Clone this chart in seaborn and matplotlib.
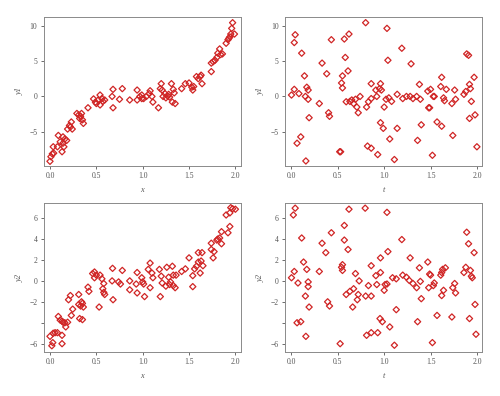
import matplotlib
matplotlib.use("Agg")
import matplotlib.pyplot as plt
import pandas as pd
import seaborn as sns

# panel 1: x vs y1
x_a = [0.00, 0.01, 0.025, 0.035, 0.04, 0.09, 0.08, 0.11, 0.13, 0.14, 0.14, 0.15, 0.16, 0.18,
       0.19, 0.21, 0.23, 0.24, 0.22, 0.29, 0.31, 0.32, 0.34, 0.35, 0.36, 0.33, 0.41, 0.47,
       0.49, 0.50, 0.52, 0.54, 0.54, 0.56, 0.57, 0.59, 0.68, 0.67, 0.68, 0.75, 0.78, 0.86,
       0.94, 0.94, 0.97, 0.99, 0.99, 1.01, 1.04, 1.07, 1.08, 1.10, 1.11, 1.17, 1.19, 1.20,
       1.21, 1.22, 1.24, 1.25, 1.27, 1.28, 1.29, 1.31, 1.32, 1.33, 1.34, 1.35, 1.42, 1.46,
       1.50, 1.53, 1.54, 1.55, 1.58, 1.60, 1.62, 1.63, 1.64, 1.74, 1.74, 1.76, 1.78, 1.80,
       1.81, 1.83, 1.84, 1.86, 1.90, 1.92, 1.94, 1.95, 1.96, 1.97, 1.99, 1.93]
y1_a = [-9.15, -8.5, -8.1, -7.1, -8.0, -5.5, -7.1, -6.4, -7.8, -6.6, -5.7, -7.1, -6.0, -6.2,
        -4.6, -4.1, -3.6, -4.6, -4.3, -2.4, -2.6, -3.1, -2.4, -3.3, -3.8, -2.8, -1.6, -0.35,
        -0.8, -1.0, -0.5, 0.2, -1.2, -0.3, -0.7, -0.5, 1.0, 0.0, -1.6, -0.4, 1.1, -0.5,
        0.9, -0.5, 0.0, 0.2, -0.3, -0.3, 0.0, 0.4, 0.8, 0.0, -0.8, -1.6, 1.1, 1.8,
        0.9, 0.0, 0.4, -0.2, 0.05, 0.3, -0.1, 1.8, -0.8, 1.0, 0.5, -1.0, 1.1, 1.8,
        1.9, 1.3, 0.9, 1.4, 2.8, 2.5, 2.8, 3.0, 1.8, 3.5, 4.7, 4.9, 5.1, 5.5,
        6.1, 6.7, 5.9, 6.0, 7.5, 8.0, 8.4, 8.8, 9.6, 10.4, 8.8, 8.2]

# panel 2: t vs y1
t_b = [0.00, 0.03, 0.03, 0.04, 0.06, 0.08, 0.10, 0.11, 0.14, 0.15, 0.155, 0.165, 0.18, 0.18,
       0.19, 0.30, 0.33, 0.38, 0.40, 0.41, 0.43, 0.52, 0.53, 0.54, 0.55, 0.55, 0.57, 0.58,
       0.59, 0.61, 0.62, 0.63, 0.65, 0.67, 0.69, 0.705, 0.72, 0.74, 0.80, 0.81, 0.82, 0.83,
       0.86, 0.86, 0.86, 0.91, 0.92, 0.93, 0.95, 0.96, 0.96, 0.97, 0.99, 1.00, 1.02, 1.03,
       1.04, 1.05, 1.06, 1.08, 1.11, 1.14, 1.14, 1.19, 1.20, 1.24, 1.28, 1.29, 1.31, 1.35,
       1.36, 1.38, 1.39, 1.40, 1.47, 1.48, 1.49, 1.50, 1.52, 1.53, 1.54, 1.57, 1.61, 1.62,
       1.62, 1.64, 1.65, 1.67, 1.73, 1.74, 1.76, 1.77, 1.86, 1.88, 1.89, 1.91, 1.92, 1.92,
       1.93, 1.94, 1.97, 1.98, 2.00]
y1_b = [0.2, 1.0, 7.6, 8.7, -6.6, 0.4, -5.7, 6.1, 2.9, 0.0, -9.1, 1.3, -0.4, 0.9,
        -3.0, -1.0, 4.7, 3.2, -2.3, -2.8, 8.0, -7.8, -7.8, 1.9, 2.9, 1.2, 8.1, 5.5,
        -0.75, 3.6, 8.8, -0.7, -0.5, -1.0, -0.4, -1.5, -2.3, 0.0, 10.4, -1.5, -7.0, -0.75,
        1.8, -0.3, -7.3, 0.9, 0.0, -8.2, 1.1, 1.8, -3.7, 0.9, -4.5, -1.5, -0.4, 9.6,
        5.1, -0.2, -6.0, -0.7, -8.9, 0.3, -4.5, 6.8, -0.3, 0.0, 0.0, 4.6, -0.3, 0.0,
        -6.2, 1.7, -0.4, -4.0, 0.75, -1.6, -1.6, 1.0, -8.3, 0.0, 0.0, -3.6, 1.4, 2.7,
        -4.2, -0.2, -0.6, 1.0, -1.0, -5.5, 0.9, -0.4, 0.3, 0.7, 6.0, 5.8, -3.1, 1.7,
        1.1, -0.7, 2.7, -2.6, -7.1]

# panel 3: x vs y2
x_c = [0.00, 0.02, 0.03, 0.035, 0.055, 0.08, 0.09, 0.11, 0.13, 0.13, 0.13, 0.14, 0.16, 0.17,
       0.19, 0.20, 0.22, 0.23, 0.245, 0.31, 0.31, 0.32, 0.33, 0.34, 0.35, 0.35, 0.36, 0.41,
       0.42, 0.46, 0.48, 0.48, 0.50, 0.53, 0.54, 0.56, 0.57, 0.58, 0.58, 0.59, 0.675, 0.67,
       0.68, 0.74, 0.76, 0.78, 0.86, 0.86, 0.94, 0.93, 0.94, 0.99, 1.00, 1.01, 1.02, 1.06,
       1.08, 1.08, 1.10, 1.11, 1.18, 1.19, 1.20, 1.21, 1.25, 1.26, 1.28, 1.29, 1.30, 1.32,
       1.33, 1.33, 1.35, 1.36, 1.42, 1.46, 1.50, 1.54, 1.54, 1.56, 1.58, 1.60, 1.60, 1.62,
       1.63, 1.64, 1.65, 1.74, 1.74, 1.76, 1.77, 1.80, 1.81, 1.83, 1.85, 1.85, 1.90, 1.92,
       1.94, 1.94, 1.95, 1.97, 2.00]
y2_c = [-5.3, -6.2, -5.9, -5.0, -4.95, -4.95, -3.4, -3.75, -3.85, -5.2, -6.0, -3.95, -4.0, -4.4,
        -3.95, -1.8, -1.4, -3.3, -2.7, -1.3, -2.25, -3.6, -2.4, -2.0, -2.15, -3.7, -2.5, -0.6,
        -1.0, 0.7, 0.85, 0.3, 0.55, -2.5, 0.55, 0.2, -0.75, -0.25, -1.1, -1.3, 1.2, 0.0,
        -1.8, -0.1, -0.3, 1.0, 0.0, -0.85, 0.8, -0.3, -1.15, 0.3, -0.1, -0.3, -1.5, 1.1,
        1.7, -0.65, 0.75, 0.3, 1.1, -1.5, 0.45, -0.2, -0.5, 1.3, 0.35, -0.35, -0.1, 1.4,
        0.55, -0.45, -0.65, 0.55, 0.9, 1.15, 2.2, 0.5, -0.55, 1.15, 1.4, 1.8, 2.7, 0.75,
        1.9, 2.7, 1.45, 3.6, 3.0, 2.2, 2.8, 3.9, 4.0, 4.1, 4.7, 3.55, 6.3, 4.6,
        5.2, 6.5, 7.0, 6.9, 6.85]

# panel 4: t vs y2
t_d = [0.00, 0.02, 0.03, 0.04, 0.06, 0.07, 0.10, 0.11, 0.13, 0.15, 0.155, 0.165, 0.18, 0.18,
       0.19, 0.30, 0.33, 0.37, 0.39, 0.41, 0.43, 0.525, 0.54, 0.55, 0.55, 0.57, 0.57, 0.59,
       0.61, 0.62, 0.63, 0.66, 0.67, 0.69, 0.71, 0.72, 0.73, 0.795, 0.80, 0.81, 0.83, 0.86,
       0.86, 0.86, 0.91, 0.92, 0.93, 0.955, 0.96, 0.96, 0.98, 1.00, 1.01, 1.03, 1.03, 1.04,
       1.06, 1.09, 1.11, 1.13, 1.13, 1.19, 1.20, 1.24, 1.27, 1.28, 1.31, 1.35, 1.36, 1.38,
       1.39, 1.40, 1.47, 1.48, 1.49, 1.50, 1.52, 1.53, 1.54, 1.57, 1.61, 1.62, 1.62, 1.63,
       1.64, 1.66, 1.73, 1.74, 1.76, 1.77, 1.86, 1.88, 1.89, 1.91, 1.92, 1.93, 1.94, 1.95,
       1.97, 1.98, 1.99]
y2_d = [0.3, 6.3, 0.9, 6.95, -4.0, -0.2, -3.9, 4.1, 1.8, -1.45, -5.3, 1.1, -0.1, -0.55,
        -2.5, 0.9, 3.6, 2.7, -2.0, -2.4, 4.6, -6.0, 1.3, 1.55, 1.0, 5.3, 3.9, -1.3,
        3.0, 6.85, -1.0, -2.5, -0.75, 0.7, -1.8, -1.3, 0.0, 6.95, -1.45, -5.2, -0.45, 1.45,
        -4.95, -1.45, 0.5, -0.35, -4.95, -3.6, 2.2, 0.8, -3.9, -0.9, -0.35, 6.55, -0.3, 2.8,
        -4.4, 0.3, -6.15, 0.2, -2.75, 3.95, 0.55, 0.35, 0.05, 2.2, -0.25, -0.65, -3.9, 1.25,
        -0.05, -1.7, 1.8, -0.65, 0.65, 0.55, -5.9, -0.45, -0.2, -3.3, 0.55, -1.4, 0.8, 1.1,
        -0.9, 1.25, -3.45, -0.65, -0.25, -1.15, 0.8, 1.3, 4.65, 3.55, -3.6, 1.0, 0.45, 0.3,
        2.7, -2.25, -5.1]

sns.set_style("ticks")
plt.rcParams["font.family"] = ["Liberation Serif", "DejaVu Serif"]

red = "#d02525"
grey = "#555555"

fig = plt.figure(figsize=(5.0, 3.96), dpi=100)
w, h = 0.394, 0.376
axes = [
    fig.add_axes([0.087, 0.581, w, h]),
    fig.add_axes([0.570, 0.581, w, h]),
    fig.add_axes([0.087, 0.111, w, h]),
    fig.add_axes([0.570, 0.111, w, h]),
]

panels = [
    (x_a, y1_a, "x", "y1"),
    (t_b, y1_b, "t", "y1"),
    (x_c, y2_c, "x", "y2"),
    (t_d, y2_d, "t", "y2"),
]

for ax, (xs, ys, xl, yl) in zip(axes, panels):
    df = pd.DataFrame({xl: xs, yl: ys})
    sns.scatterplot(data=df, x=xl, y=yl, ax=ax, marker="D", s=10,
                    fc="none", ec=red, linewidth=0.9)
    ax.set_xlim(-0.07, 2.055)
    ax.set_xticks([0.0, 0.5, 1.0, 1.5, 2.0])
    ax.set_xticklabels(["0.0", "0.5", "1.0", "1.5", "2.0"])
    if yl == "y1":
        ax.set_ylim(-9.8, 11.2)
        ax.set_yticks([-5, 0, 5, 10])
        ax.set_yticklabels(["\u22125", "0", "5", "10"])
    else:
        ax.set_ylim(-6.8, 7.43)
        ax.set_yticks([-6, -4, -2, 0, 2, 4, 6])
        ax.set_yticklabels(["\u22126", "", "\u22122", "0", "2", "4", "6"])
    ax.set_xlabel(xl, fontsize=6, style="italic", color=grey, labelpad=4)
    ax.set_ylabel(yl, fontsize=6, style="italic", color=grey, labelpad=4)
    ax.tick_params(labelsize=5.5, colors=grey, length=2.5, width=0.6, pad=2)
    for sp in ax.spines.values():
        sp.set_color("#8a8a8a")
        sp.set_linewidth(0.7)

fig.savefig("out.png", dpi=100)
